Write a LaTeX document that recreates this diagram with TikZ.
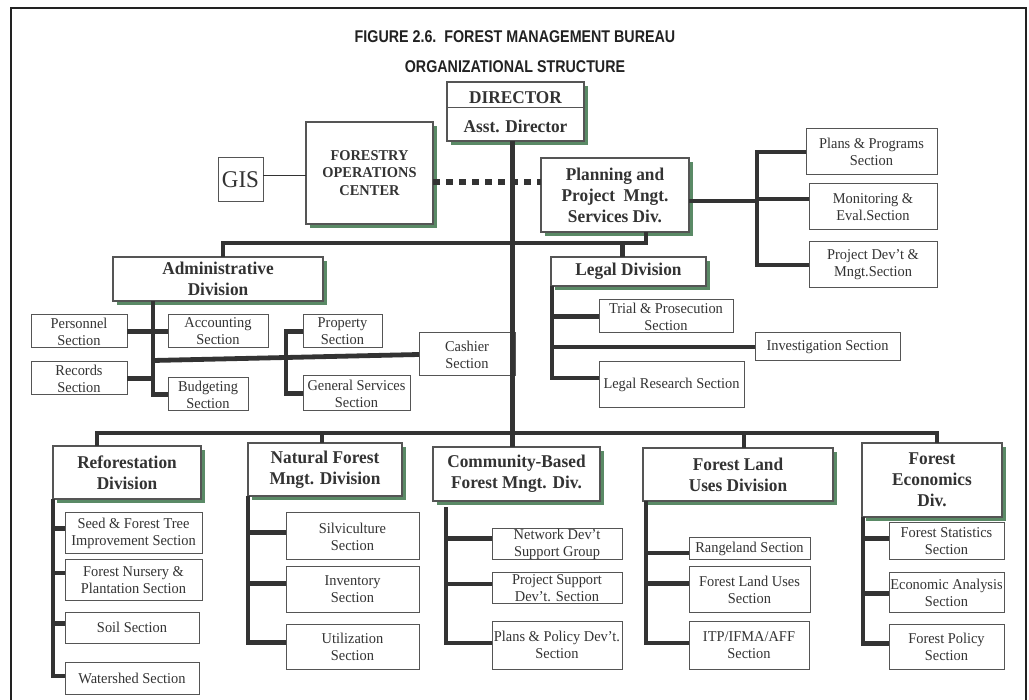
\documentclass[tikz,border=0pt]{standalone}
\usepackage{fontspec}
\setmainfont{Liberation Serif}[FakeStretch=0.96]
\newfontfamily\titlefont{Liberation Sans}[FakeStretch=0.84]
\usetikzlibrary{shadows}
\definecolor{txt}{HTML}{333333}
\definecolor{boxgray}{HTML}{555555}
\definecolor{linec}{HTML}{333333}
\definecolor{shgreen}{HTML}{5A8A66}
\definecolor{framec}{HTML}{222222}
\newcommand\secfont{\fontsize{15}{17}\selectfont}
\newcommand\divfont{\fontsize{18}{21}\selectfont\bfseries}
\newcommand\mybox[7]{\node[#6, minimum width={(#4-#2)*1pt}, minimum height={(#5-#3)*1pt}] (#1) at ({(#2+#4)/2},{(#3+#5)/2}) {#7};}
\tikzset{
  secbox/.style={draw=boxgray, line width=1pt, fill=white, inner sep=0pt, outer sep=0pt, align=center, font=\secfont, text=txt},
  divbox/.style={secbox, line width=1.2pt, font=\divfont, drop shadow={shadow xshift=4pt, shadow yshift=-4pt, fill=shgreen, opacity=1}},
  conn/.style={draw=linec, line width=4.8pt, line join=miter},
  thinconn/.style={draw=linec, line width=1pt},
  dotconn/.style={draw=linec, line width=6.5pt, dash pattern=on 7pt off 6pt},
  titlestyle/.style={font=\titlefont\bfseries\fontsize{17}{20}\selectfont, text=framec, inner sep=0pt}
}
\begin{document}
\begin{tikzpicture}[x=1pt,y=-1pt]
\useasboundingbox (0,0) rectangle (1029,700);
\fill[white] (0,0) rectangle (1029,700);
\draw[framec, line width=2pt] (11,710) -- (11,8) -- (1026,8) -- (1026,710);

\node[titlestyle, anchor=base] (t1) at (515,43) {FIGURE 2.6.\ \ FOREST MANAGEMENT BUREAU};
\node[titlestyle, anchor=base] (t2) at (515,73) {ORGANIZATIONAL STRUCTURE};

% top level
\mybox{director}{447}{82}{584}{141}{divbox}{}
\draw[boxgray, line width=1pt] (director.west |- 0,108) -- (director.east |- 0,108);
\node[font=\divfont, text=txt, inner sep=0pt] (dirt) at (515.5,98) {DIRECTOR};
\node[font=\divfont, text=txt, inner sep=0pt] (dira) at (515.5,126) {Asst. Director};

\mybox{foc}{306}{122}{433}{224}{divbox, font=\fontsize{15}{17.5}\selectfont\bfseries}{FORESTRY\\OPERATIONS\\CENTER}
\mybox{gis}{218}{158}{263}{202}{secbox, font=\fontsize{24}{26}\selectfont}{GIS}
\mybox{planning}{541}{158}{689}{232}{divbox}{Planning and\\Project\ \ Mngt.\\Services Div.}
\mybox{plans}{806}{129}{937}{175}{secbox}{Plans \& Programs\\Section}
\mybox{monitor}{809}{184}{937}{230}{secbox}{Monitoring \&\\Eval.Section}
\mybox{projdev}{809}{242}{937}{288}{secbox}{Project Dev’t \&\\Mngt.Section}

% admin
\mybox{admin}{113}{257}{323}{301}{divbox}{Administrative\\Division}
\mybox{personnel}{31}{315}{127}{348}{secbox}{Personnel\\Section}
\mybox{accounting}{168}{315}{268}{348}{secbox}{Accounting\\Section}
\mybox{records}{31}{362}{127}{395}{secbox}{Records\\Section}
\mybox{budget}{168}{378}{248}{411}{secbox}{Budgeting\\Section}
\mybox{property}{303}{315}{382}{348}{secbox}{Property\\Section}
\mybox{general}{303}{376}{410}{411}{secbox}{General Services\\Section}
\mybox{cashier}{419}{333}{515}{376}{secbox}{Cashier\\Section}

% legal
\mybox{legal}{551}{257}{706}{286}{divbox}{Legal Division}
\mybox{trial}{599}{300}{733}{333}{secbox}{Trial \& Prosecution\\Section}
\mybox{invest}{755}{333}{900}{361}{secbox}{Investigation Section}
\mybox{research}{599}{362}{744}{408}{secbox}{Legal Research Section}

% bottom divisions
\mybox{ref}{53}{446}{201}{499}{divbox}{Reforestation\\Division}
\mybox{seed}{65}{513}{202}{554}{secbox}{Seed \& Forest Tree\\Improvement Section}
\mybox{nursery}{65}{560}{202}{600}{secbox}{Forest Nursery \&\\Plantation Section}
\mybox{soil}{65}{612}{199}{643}{secbox}{Soil Section}
\mybox{watershed}{65}{662}{199}{694}{secbox}{Watershed Section}

\mybox{natural}{248}{443}{402}{496}{divbox}{Natural Forest\\Mngt. Division}
\mybox{silvi}{286}{513}{419}{560}{secbox}{Silviculture\\Section}
\mybox{inventory}{286}{567}{419}{612}{secbox}{Inventory\\Section}
\mybox{util}{286}{624}{419}{669}{secbox}{Utilization\\Section}

\mybox{cbfm}{433}{447}{600}{501}{divbox}{Community-Based\\Forest Mngt. Div.}
\mybox{network}{492}{529}{622}{560}{secbox}{Network Dev’t\\Support Group}
\mybox{projsupp}{492}{573}{622}{603}{secbox}{Project Support\\Dev’t. Section}
\mybox{policydev}{492}{621}{622}{669}{secbox}{Plans \& Policy Dev’t.\\Section}

\mybox{land}{643}{448}{833}{501}{divbox}{Forest Land\\Uses Division}
\mybox{range}{689}{538}{810}{560}{secbox}{Rangeland Section}
\mybox{fluses}{689}{567}{810}{612}{secbox}{Forest Land Uses\\Section}
\mybox{itp}{689}{621}{809}{669}{secbox}{ITP/IFMA/AFF\\Section}

\mybox{econ}{862}{443}{1002}{517}{divbox}{Forest\\Economics\\Div.}
\mybox{stats}{889}{523}{1004}{560}{secbox}{Forest Statistics\\Section}
\mybox{analysis}{889}{573}{1004}{612}{secbox}{Economic Analysis\\Section}
\mybox{fpolicy}{889}{624}{1004}{669}{secbox}{Forest Policy\\Section}

% ---- connectors ----
\draw[conn] ([xshift=-3pt]director.south) -- ([xshift=-3pt]director.south |- cbfm.north);
\draw[conn] ([xshift=5pt]admin.north) -- ++(0,-14) -| ([xshift=31pt]planning.south);
\draw[conn] ([xshift=-6pt]legal.north) -- ++(0,-14);
\draw[thinconn] ([yshift=4pt]gis.east) -- ([yshift=4pt]gis.east -| foc.west);
\coordinate (focR) at ([yshift=-9pt]foc.east);
\draw[dotconn] (focR) -- (focR -| planning.west);

% planning sections
\coordinate (plsp) at ([xshift=68pt,yshift=-6pt]planning.east);
\draw[conn] ([yshift=-6pt]planning.east) -- (plsp);
\draw[conn] (plans.west) -| (plsp);
\draw[conn] (projdev.west) -| (plsp);
\draw[conn] ([yshift=8pt]monitor.west) -| (plsp);

% admin sections
\coordinate (admsp) at ([xshift=40pt]admin.south west);
\draw[conn] (budget.west) -| (admsp);
\draw[conn] (personnel.east) -- (accounting.west);
\draw[conn] (records.east) -| (admsp);
\coordinate (cashL) at ([yshift=-6pt]cashier.west);
\draw[conn] (cashL -| admsp) -- (cashier.west);
\coordinate (pgsp) at ([xshift=-17pt]property.west);
\draw[conn] (general.west) -| (pgsp) -- (property.west);

% legal sections
\coordinate (legsp) at ([xshift=1pt]legal.south west);
\draw[conn] ([yshift=7pt]research.west) -| (legsp);
\draw[conn] (trial.west) -| (legsp);
\draw[conn] (invest.west) -| (legsp);

% bottom bus
\draw[conn] ([xshift=-30pt]ref.north) -- ++(0,-13) -| ([xshift=5pt]econ.north);
\draw[conn] ([xshift=-3pt]natural.north) -- ++(0,-10);
\draw[conn] ([xshift=6pt]land.north) -- ++(0,-15);

% reforestation
\coordinate (refsp) at (ref.south west);
\draw[conn] ([yshift=2pt]watershed.west) -| (refsp);
\draw[conn] ([yshift=5pt]seed.west) -| (refsp);
\draw[conn] ([yshift=7pt]nursery.west) -| (refsp);
\draw[conn] ([yshift=4pt]soil.west) -| (refsp);

% natural forest
\coordinate (natsp) at (natural.south west);
\draw[conn] ([yshift=4pt]util.west) -| (natsp);
\draw[conn] ([yshift=4pt]silvi.west) -| (natsp);
\draw[conn] ([yshift=6pt]inventory.west) -| (natsp);

% community based
\coordinate (cbsp) at ([xshift=13pt,yshift=-6pt]cbfm.south west);
\draw[conn] ([yshift=2pt]policydev.west) -| (cbsp);
\draw[conn] ([yshift=6pt]network.west) -| (cbsp);
\draw[conn] ([yshift=4pt]projsupp.west) -| (cbsp);

% forest land uses
\coordinate (landsp) at ([xshift=3pt]land.south west);
\draw[conn] ([yshift=2pt]itp.west) -| (landsp);
\draw[conn] ([yshift=-4pt]range.west) -| (landsp);
\draw[conn] ([yshift=6pt]fluses.west) -| (landsp);

% forest economics
\coordinate (econsp) at ([xshift=1pt]econ.south west);
\draw[conn] ([yshift=3pt]fpolicy.west) -| (econsp);
\draw[conn] ([yshift=3pt]stats.west) -| (econsp);
\draw[conn] ([yshift=-1pt]analysis.west) -| (econsp);
\end{tikzpicture}
\end{document}
